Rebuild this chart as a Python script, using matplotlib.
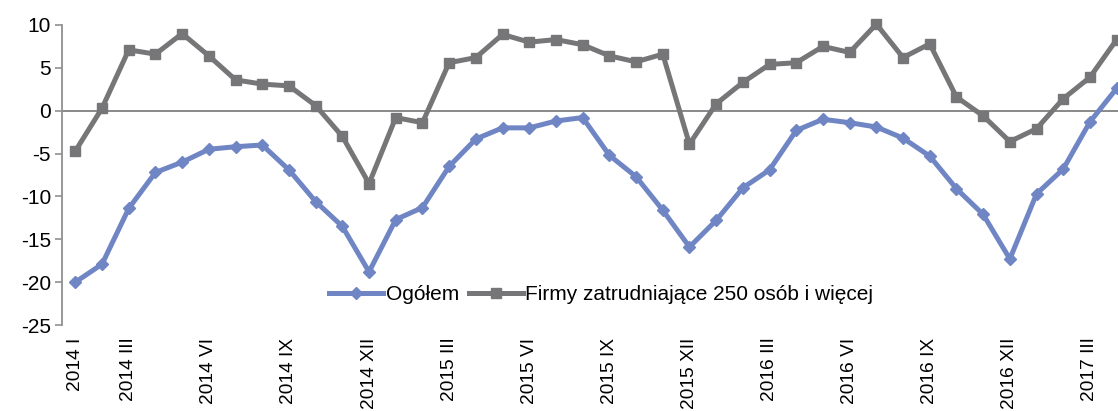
import numpy as np
import matplotlib
matplotlib.use("Agg")
import matplotlib.pyplot as plt

# monthly data, 2014 I .. 2017 IV
roman = ['I', 'II', 'III', 'IV', 'V', 'VI', 'VII', 'VIII', 'IX', 'X', 'XI', 'XII']
months = [f"{y} {m}" for y in (2014, 2015, 2016, 2017) for m in roman][:40]

ogolem = [-20.0, -17.9, -11.4, -7.2, -6.0, -4.5, -4.2, -4.0, -6.9, -10.6, -13.5, -18.8,
          -12.7, -11.3, -6.5, -3.3, -2.0, -2.0, -1.2, -0.8, -5.2, -7.7, -11.6, -15.9,
          -12.8, -9.0, -6.9, -2.3, -1.0, -1.4, -1.9, -3.2, -5.3, -9.1, -12.1, -17.3,
          -9.7, -6.8, -1.3, 2.6]
firmy = [-4.7, 0.3, 7.1, 6.6, 9.0, 6.4, 3.6, 3.1, 2.9, 0.6, -3.0, -8.5,
         -0.8, -1.4, 5.6, 6.2, 8.9, 8.0, 8.3, 7.7, 6.4, 5.7, 6.6, -3.9,
         0.8, 3.3, 5.4, 5.6, 7.5, 6.8, 10.1, 6.2, 7.8, 1.6, -0.6, -3.6,
         -2.1, 1.4, 3.9, 8.3]
# labelled months: first one, then every third from 2014 III
tick_idx = [0] + list(range(2, len(months), 3))

plt.rcParams['font.family'] = ['Liberation Sans', 'DejaVu Sans']
plt.rcParams['axes.unicode_minus'] = False

blue = '#7086c4'
grey = '#767678'

fig = plt.figure(figsize=(11.18, 4.11), dpi=100)
ax = fig.add_axes([62 / 1118, 86 / 411, 1068 / 1118, 300 / 411])

x = np.arange(len(months))
ax.plot(x, ogolem, color=blue, lw=3.6, marker='D', ms=6, label='Ogółem', clip_on=False)
ax.plot(x, firmy, color=grey, lw=3.6, marker='s', ms=7, label='Firmy zatrudniające 250 osób i więcej',
        clip_on=False)

ax.set_xlim(-0.5, len(months) - 0.5)
ax.set_ylim(-25, 10)
ax.set_yticks(np.arange(-25, 11, 5))
ax.axhline(0, color='#808080', lw=1.3, zorder=1)

ax.set_xticks(tick_idx)
ax.set_xticklabels([months[i] for i in tick_idx], rotation=90, va='top', ha='center')
ax.tick_params(axis='x', length=0, pad=9, labelsize=13.8)
ax.tick_params(axis='y', length=5, width=1.2, color='#909090', labelsize=15, pad=3)

for s in ['top', 'right', 'bottom']:
    ax.spines[s].set_visible(False)
ax.spines['left'].set_color('#909090')
ax.spines['left'].set_linewidth(1.3)

ax.legend(loc='center', bbox_to_anchor=(0.505, 0.1), ncol=2, frameon=False, fontsize=15,
          handlelength=2.6, handletextpad=0.1, columnspacing=0.5)

fig.savefig('out.png', dpi=100)
